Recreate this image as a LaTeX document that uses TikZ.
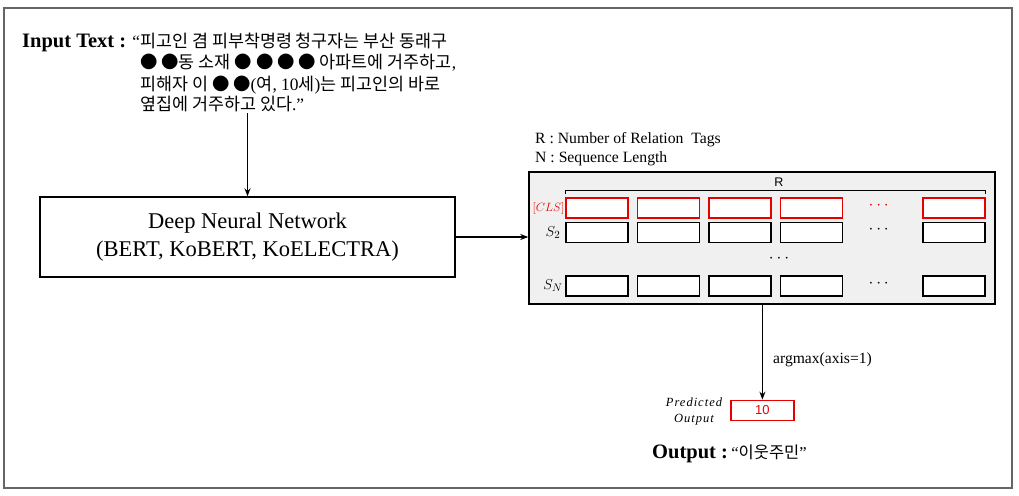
\documentclass[tikz,border=0pt]{standalone}
\usepackage{fontspec}
\setmainfont{Liberation Serif}
\setsansfont{Liberation Sans}
\newfontfamily\kr{Noto Sans CJK KR}
\newfontfamily\spit[LetterSpace=8]{Liberation Serif}
\usetikzlibrary{arrows.meta}
\definecolor{cellred}{RGB}{230,0,0}
\definecolor{framegray}{RGB}{100,100,100}
\begin{document}
\begin{tikzpicture}[x=1pt,y=-1pt,
  arr/.style={-{Stealth[length=8pt,width=6pt]}, line width=1.5pt},
  txt/.style={inner sep=1pt},
  cell/.style={draw, line width=1.5pt, minimum width=62pt, minimum height=20pt, inner sep=0pt, fill=white},
  redcell/.style={cell, draw=cellred},
  krline/.style={txt, anchor=base west, font=\fontsize{17.4}{20}\selectfont},
  legend/.style={txt, anchor=west, font=\fontsize{15.7}{18}\selectfont},
  dots/.style={txt, font=\bfseries\fontsize{17}{17}\selectfont}
]
\useasboundingbox (0,0) rectangle (1019,495);
\draw[framegray, line width=1.5pt] (4,8) rectangle (1012,488);

% input text
\node[txt, anchor=base west, font=\bfseries\fontsize{20.5}{22}\selectfont] (inlbl) at (21,48) {Input Text :};
\node[krline] (l1) at (139,48) {\llap{“}{\kr 피고인 겸 피부착명령 청구자는 부산 동래구}};
\node[krline] (l2) at (139,69) {{\kr ● ●동 소재 ● ● ● ● 아파트에 거주하고},};
\node[krline] (l3) at (139,90) {{\kr 피해자 이 ● ●}({\kr 여}, 10{\kr 세}){\kr 는 피고인의 바로}};
\node[krline] (l4) at (139,110) {{\kr 옆집에 거주하고 있다}.”};

% DNN
\node[draw, line width=1.4pt, minimum width=415pt, minimum height=80pt, align=center,
      font=\fontsize{22.5}{28}\selectfont] (dnn) at (247.5,237) {Deep Neural Network\\(BERT, KoBERT, KoELECTRA)};
\coordinate (inbot) at (247.5,113);
\draw[arr] (inbot) -- (dnn.north);

% legend
\node[legend] (leg1) at (534,140) {R : Number of Relation\ \ Tags};
\node[legend] (leg2) at (534,159) {N : Sequence Length};

% gray box
\node[draw, fill=gray!12, line width=1.5pt, minimum width=466pt, minimum height=132pt, inner sep=0pt] (gbox) at (762,238) {};
\draw[arr] (dnn.east) -- (dnn.east -| gbox.west);

% cells
\foreach \x/\i in {597.2/1, 668.5/2, 739.8/3, 811.3/4, 953.8/5} {
  \node[redcell] (cls\i) at (\x,208.2) {};
  \node[cell] (s\i) at (\x,232.3) {};
  \node[cell] (n\i) at (\x,285.8) {};
}
\node[dots, text=cellred] (d1) at (878.7,206) {$\cdots$};
\node[dots] (d2) at (878.7,230) {$\cdots$};
\node[dots] (d3) at (878.7,283.5) {$\cdots$};
\node[dots] (d4) at (779,258.5) {$\cdots$};

% brace R
\draw[line width=1.3pt] ([yshift=3pt]cls1.north west) -- ([yshift=7pt]cls1.north west)
   -- ([yshift=7pt]cls5.north east) -- ([yshift=3pt]cls5.north east);
\node[txt, font=\sffamily\fontsize{12.5}{12}\selectfont] (rlbl) at (779,182.5) {R};

% row labels
\node[txt, anchor=east, text=cellred, font=\fontsize{12.5}{13}\selectfont] (clslbl) at (565.5,208.2) {$[CLS]$};
\node[txt, font=\fontsize{15}{15}\selectfont] (s2lbl) at (553,232.3) {$S_2$};
\node[txt, font=\fontsize{15}{15}\selectfont] (snlbl) at (553,285.8) {$S_N$};

% predicted output
\node[draw=cellred, line width=1.5pt, minimum width=63pt, minimum height=20pt, inner sep=0pt,
      text=cellred, font=\sffamily\fontsize{13}{13}\selectfont] (pred) at (762.4,410.4) {10};
\draw[arr] (gbox.south -| pred.north) -- (pred.north);
\node[txt, anchor=west, font=\fontsize{15.6}{18}\selectfont] (argm) at (772,360) {argmax(axis=1)};
\node[txt, align=center, font=\spit\itshape\fontsize{12.5}{16}\selectfont] (predlbl) at (694,411) {Predicted\\Output};

% output
\node[txt, anchor=base west, font=\bfseries\fontsize{20.5}{22}\selectfont] (outlbl) at (651,458) {Output :};
\node[txt, anchor=base west, font=\fontsize{16.5}{18}\selectfont] (outtxt) at ([xshift=1pt]outlbl.base east) {“{\kr 이웃주민}”};
\end{tikzpicture}
\end{document}
